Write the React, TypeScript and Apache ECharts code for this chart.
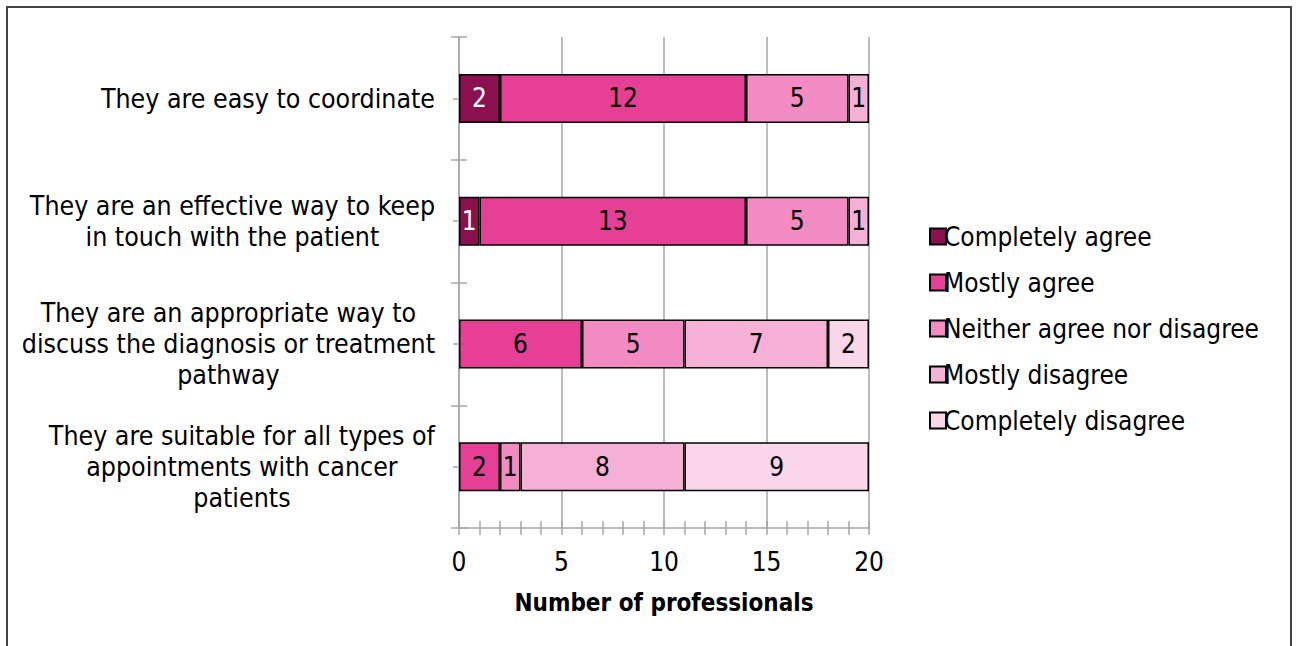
import React, { useEffect, useRef } from "react";
import * as echarts from "echarts";

const categories = [
  "They are easy to coordinate",
  "They are an effective way to keep\nin touch with the patient",
  "They are an appropriate way to\ndiscuss the diagnosis or treatment\npathway",
  "They are suitable for all types of\nappointments with cancer\npatients",
];
const seriesNames = [
  "Completely agree",
  "Mostly agree",
  "Neither agree nor disagree",
  "Mostly disagree",
  "Completely disagree",
];
const completelyAgree = [2, 1, 0, 0];
const mostlyAgree = [12, 13, 6, 2];
const neitherAgree = [5, 5, 5, 1];
const mostlyDisagree = [1, 1, 7, 8];
const completelyDisagree = [0, 0, 2, 9];
const seriesColors = ["#8A1050", "#E63F96", "#F18BC1", "#F5B1D5", "#F9D6E9"];
const labelColors = ["#FFFFFF", "#000000", "#000000", "#000000", "#000000"];
const xMin = 0;
const xMax = 20;
const xInterval = 5;
const xTitle = "Number of professionals";

const FONT = "'DejaVu Sans Condensed', 'Liberation Sans', sans-serif";
const GRID_LINE = "#A6A6A6";

export default function App() {
  const ref = useRef<HTMLDivElement>(null);
  useEffect(() => {
    if (!ref.current) return;
    const chart = echarts.init(ref.current, undefined, { renderer: "svg" });
    const allValues = [completelyAgree, mostlyAgree, neitherAgree, mostlyDisagree, completelyDisagree];
    const series = allValues.map((vals, i) => ({
      name: seriesNames[i],
      type: "bar",
      stack: "total",
      barWidth: 49,
      xAxisIndex: 0,
      yAxisIndex: 0,
      data: vals.map((v) => (v > 0 ? v : "-")),
      itemStyle: { color: seriesColors[i], borderColor: "#000000", borderWidth: 1.5 },
      label: {
        show: true,
        position: "inside",
        color: labelColors[i],
        fontFamily: FONT,
        fontSize: 26,
      },
      emphasis: { disabled: true },
    }));
    const yBase = {
      type: "category",
      data: categories,
      inverse: true,
      gridIndex: 0,
      position: "left",
    };
    chart.setOption({
      animation: false,
      backgroundColor: "#FFFFFF",
      textStyle: { fontFamily: FONT },
      graphic: [
        {
          type: "rect",
          shape: { x: 7, y: 7, width: 1284, height: 700 },
          style: { fill: "none", stroke: "#444444", lineWidth: 2 },
          silent: true,
        },
      ],
      legend: {
        orient: "vertical",
        left: 924,
        top: 218,
        icon: "rect",
        itemWidth: 16,
        itemHeight: 16,
        itemGap: 19,
        selectedMode: false,
        textStyle: { fontFamily: FONT, fontSize: 26, color: "#000000", padding: [0, 0, 0, -7], lineHeight: 27 },
        data: seriesNames,
      },
      grid: { left: 459, top: 37, width: 410, height: 491, containLabel: false },
      xAxis: [
        {
          type: "value",
          min: xMin,
          max: xMax,
          interval: xInterval,
          position: "bottom",
          axisLine: { show: true, lineStyle: { color: GRID_LINE, width: 1.5 } },
          axisTick: { show: true, length: 7, lineStyle: { color: GRID_LINE, width: 1.5 } },
          minorTick: { show: true, splitNumber: 5, length: 7, lineStyle: { color: GRID_LINE, width: 1.5 } },
          splitLine: { show: true, lineStyle: { color: GRID_LINE, width: 1.5 } },
          axisLabel: { fontFamily: FONT, fontSize: 26, color: "#000000", margin: 21 },
          name: xTitle,
          nameLocation: "middle",
          nameGap: 63,
          nameTextStyle: { fontFamily: FONT, fontSize: 24, fontWeight: "bold", color: "#000000" },
        },
        {
          type: "value",
          min: xMin,
          max: xMax,
          interval: xInterval,
          position: "bottom",
          axisLine: { show: false },
          axisTick: { show: true, inside: true, length: 7, lineStyle: { color: GRID_LINE, width: 1.5 } },
          minorTick: { show: true, splitNumber: 5, length: 7, lineStyle: { color: GRID_LINE, width: 1.5 } },
          splitLine: { show: false },
          axisLabel: { show: false },
        },
      ],
      yAxis: [
        {
          ...yBase,
          axisLine: { show: true, lineStyle: { color: GRID_LINE, width: 1.5 } },
          axisTick: { show: true, interval: 0, length: 8, lineStyle: { color: GRID_LINE, width: 1.5 } },
          axisLabel: {
            margin: 24,
            interval: 0,
            formatter: (v: string) => v.split("\n").map((l) => `{c|${l}}`).join("\n"),
            rich: {
              c: { align: "center", fontFamily: FONT, fontSize: 26.5, lineHeight: 31, color: "#000000" },
            },
          },
        },
        {
          ...yBase,
          axisLine: { show: false },
          axisTick: { show: true, inside: true, interval: 0, length: 8, lineStyle: { color: GRID_LINE, width: 1.5 } },
          axisLabel: { show: false },
        },
        {
          ...yBase,
          axisLine: { show: false },
          axisTick: { show: true, alignWithLabel: true, interval: 0, length: 6, lineStyle: { color: GRID_LINE, width: 1.5 } },
          axisLabel: { show: false },
        },
      ],
      series,
    });
    return () => chart.dispose();
  }, []);
  return (
    <div
      ref={ref}
      style={{ position: "absolute", left: 0, top: 0, width: 1297, height: 646 }}
    />
  );
}
